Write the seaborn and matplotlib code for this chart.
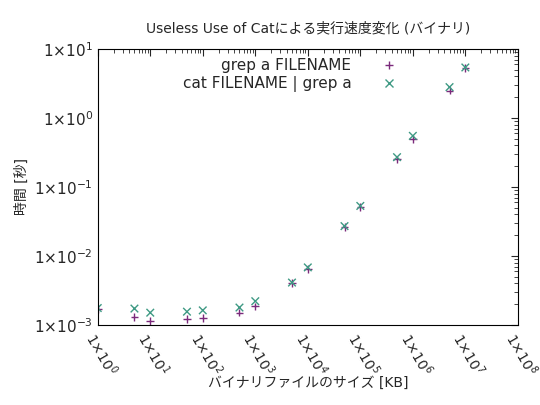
import matplotlib
matplotlib.use("Agg")
import math
import matplotlib.pyplot as plt
import seaborn as sns
import pandas as pd
from matplotlib.ticker import LogLocator, FuncFormatter

sizes_kb = [1, 5, 10, 50, 100, 500, 1000, 5000, 1e4, 5e4, 1e5, 5e5, 1e6, 5e6, 1e7]
grep_time = [1.7e-3, 1.31e-3, 1.14e-3, 1.22e-3, 1.26e-3, 1.5e-3, 1.85e-3, 4.0e-3, 6.5e-3, 0.026, 0.051, 0.25, 0.5, 2.5, 5.3]
cat_time = [1.75e-3, 1.72e-3, 1.5e-3, 1.55e-3, 1.62e-3, 1.78e-3, 2.2e-3, 4.1e-3, 6.8e-3, 0.027, 0.053, 0.27, 0.55, 2.8, 5.4]
labels = ["grep a FILENAME", "cat FILENAME | grep a"]

sns.set_style("white")
plt.rcParams['font.family'] = ['DejaVu Sans', 'Noto Sans CJK JP']

df = pd.concat([
    pd.DataFrame({"x": sizes_kb, "y": grep_time, "s": labels[0]}),
    pd.DataFrame({"x": sizes_kb, "y": cat_time, "s": labels[1]}),
])

fig = plt.figure(figsize=(5.4, 4.05), dpi=100)
ax = fig.add_axes([0.181, 0.198, 0.778, 0.681])
sns.scatterplot(data=df, x="x", y="y", hue="s", style="s",
                markers={labels[0]: "+", labels[1]: "x"},
                palette={labels[0]: "#7b2a7b", labels[1]: "#3f9a84"},
                s=30, linewidth=1, ax=ax)
ax.set_xscale("log"); ax.set_yscale("log")
ax.set_xlim(1, 1e8); ax.set_ylim(1e-3, 10)
fmt = FuncFormatter(lambda v, p: r"$1{\times}10^{%d}$" % round(math.log10(v)))
ax.xaxis.set_major_locator(LogLocator(base=10, numticks=20))
ax.yaxis.set_major_locator(LogLocator(base=10, numticks=20))
ax.xaxis.set_major_formatter(fmt); ax.yaxis.set_major_formatter(fmt)
ax.tick_params(axis="both", which="both", direction="in", top=True, right=True, labelsize=11)
ax.tick_params(axis="x", labelsize=10)
ax.tick_params(which="major", length=5)
ax.tick_params(which="minor", length=3)
for lab in ax.get_xticklabels():
    lab.set_rotation(-60); lab.set_ha("left"); lab.set_va("top"); lab.set_rotation_mode("anchor")
for sp in ax.spines.values():
    sp.set_color("black"); sp.set_linewidth(0.8)
ax.set_xlabel("バイナリファイルのサイズ [KB]", fontsize=10, labelpad=-2)
ax.set_ylabel("時間 [秒]", fontsize=10)
ax.set_title("Useless Use of Catによる実行速度変化 (バイナリ)", fontsize=10, pad=12)
leg = ax.legend(loc="upper left", bbox_to_anchor=(0.18, 1.0), frameon=False, markerfirst=False,
                fontsize=11, title=None, handletextpad=1.5, borderaxespad=0.2, labelspacing=0.2)
for t in leg.get_texts():
    t.set_ha("right")
fig.savefig("out.png", dpi=100)
